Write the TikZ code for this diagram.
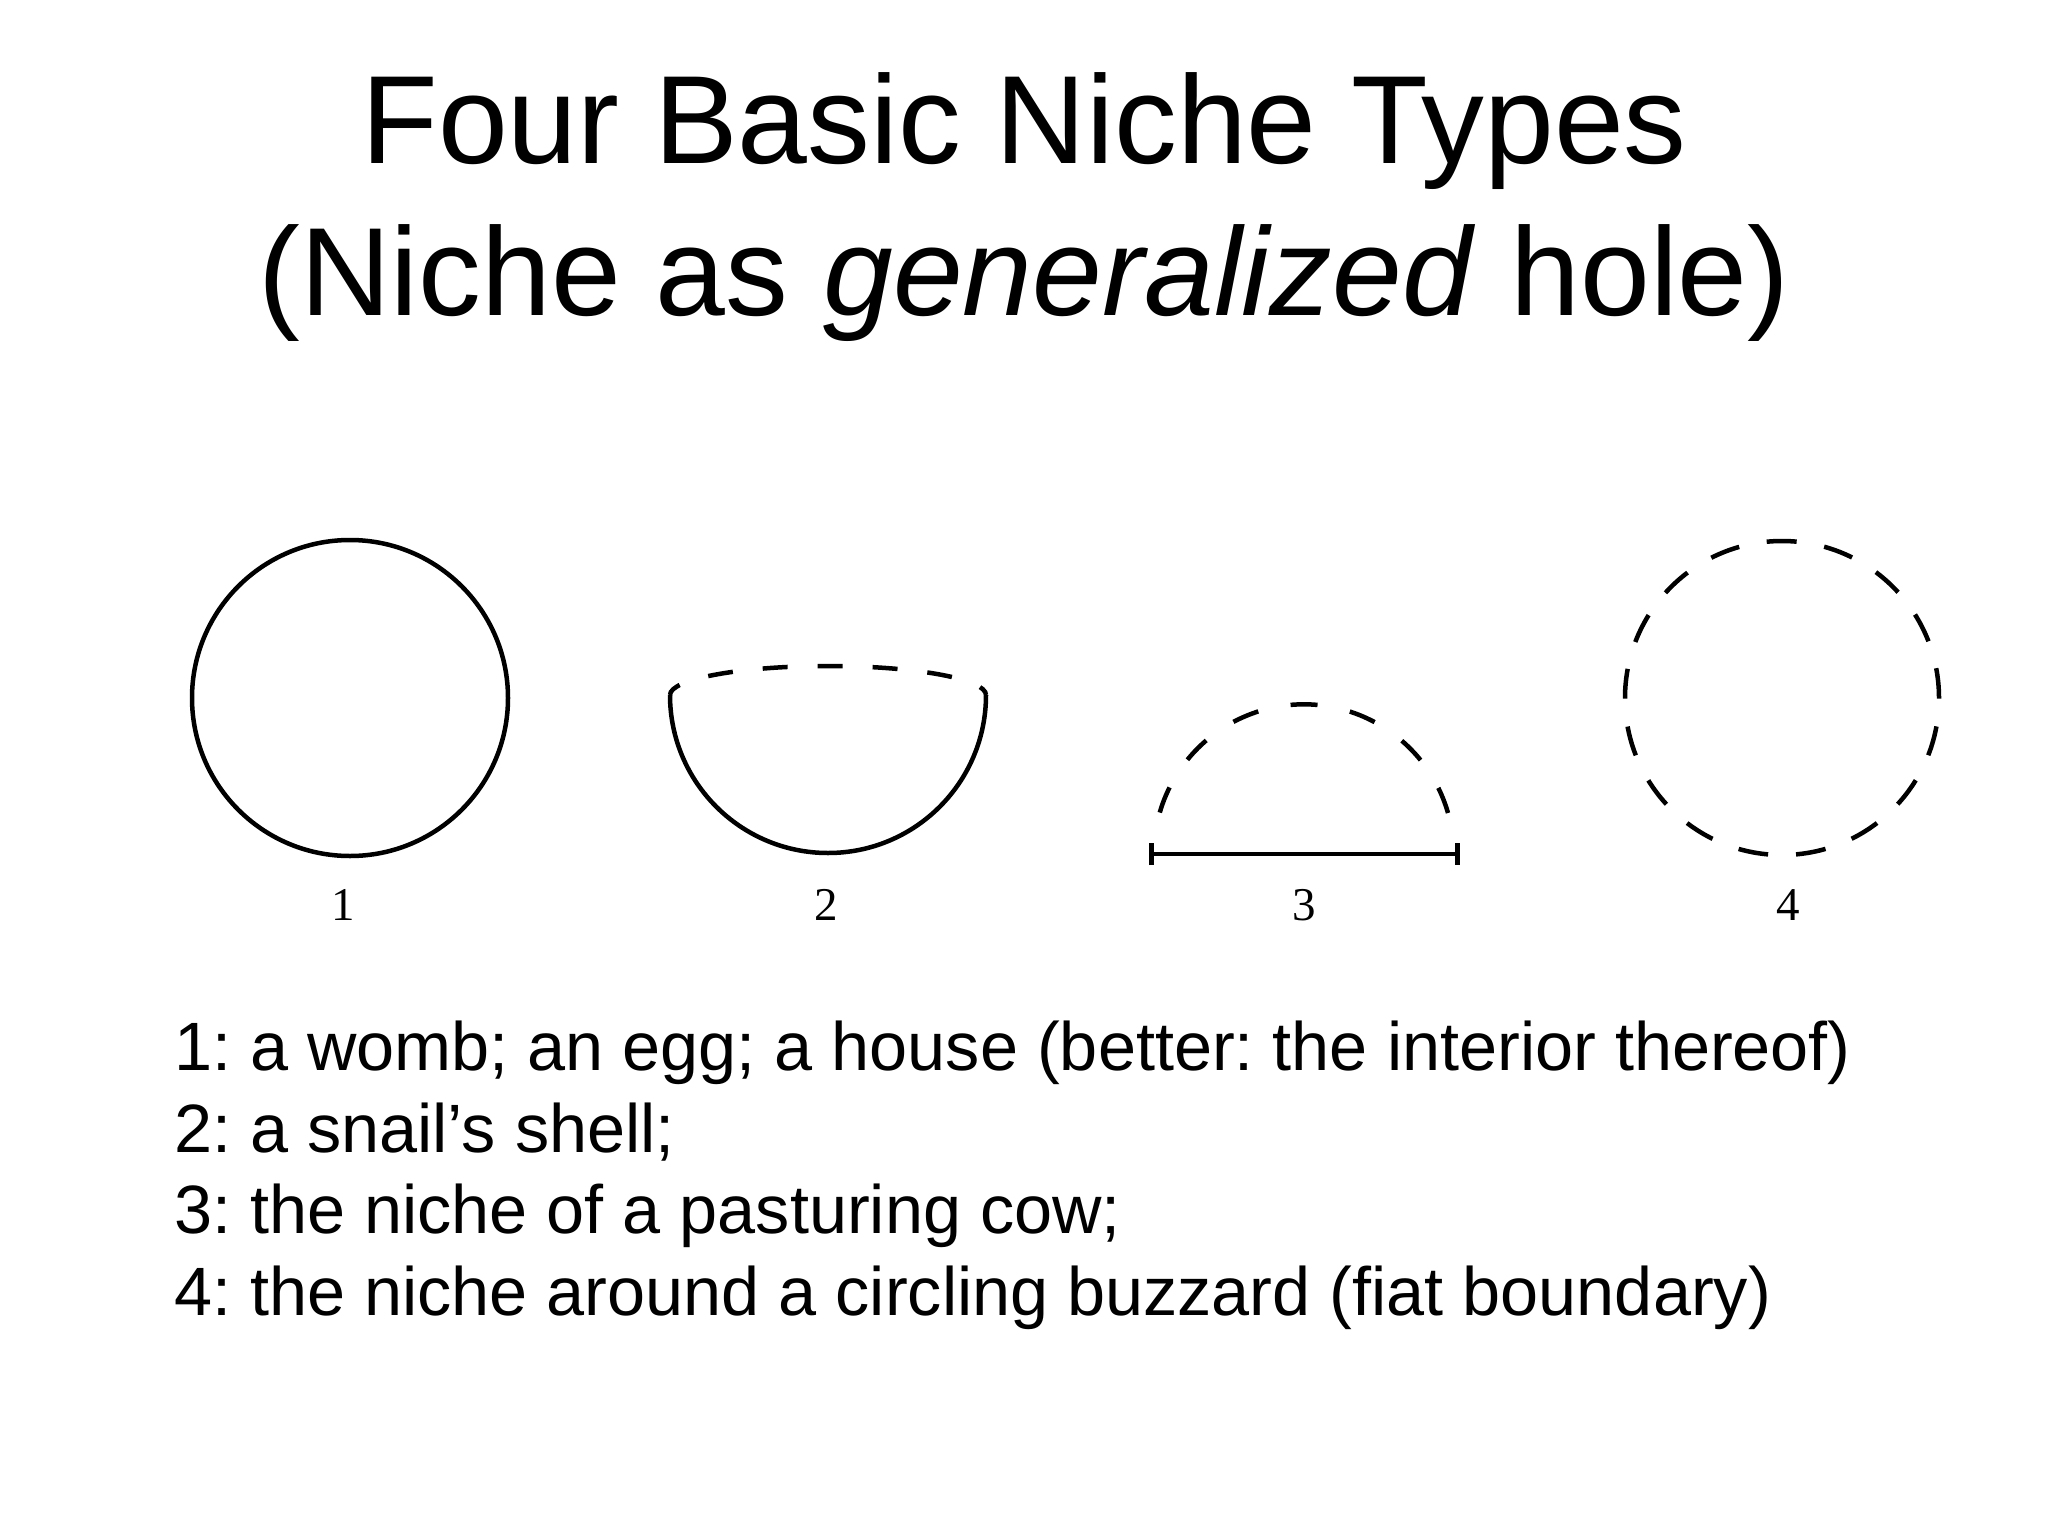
\documentclass[tikz,border=0pt]{standalone}
\usepackage{fontspec}
\setmainfont{Liberation Sans}
\newfontfamily\numfont{Liberation Serif}
\usepackage{tikz}
\usetikzlibrary{arrows.meta}
\tikzset{>=latex}
\frenchspacing
\tikzstyle{rim} = [-, line width = 4.5pt]
\tikzstyle{fiat} = [-, line width = 4.5pt, dash pattern = on 30pt off 28pt]
\tikzstyle{head} = [draw=none, inner sep = 0, anchor = base, font = \fontsize{125.5}{151}\selectfont]
\tikzstyle{num} = [draw=none, inner sep = 0, anchor = base, font = \numfont\fontsize{47}{47}\selectfont]
\tikzstyle{legend} = [draw=none, inner sep = 0, anchor = base west, font = \fontsize{68.4}{82}\selectfont]

\begin{document}
\begin{tikzpicture}[x = 1pt, y = -1pt]
\useasboundingbox (0, 0) rectangle (2048, 1536);
\node [head] (T1) at (1024, 164) {Four Basic Niche Types};
\node [head] (T2) at (1024, 315) {(Niche as \textit{generalized} hole)};
% womb
\draw [rim] (350, 698) circle [radius = 158pt];
% shell
\draw [rim] (670, 695) arc [start angle = 180, end angle = 360, radius = 158pt];
\draw [rim, dash pattern = on 25pt off 30pt, dash phase = 10.5pt] (670, 695) arc [start angle = 180, end angle = 0, x radius = 158pt, y radius = 29pt];
% pasture
\coordinate (gl) at (1149, 854);
\coordinate (gr) at (1460, 854);
\draw [rim, {Bar[width = 22pt, line width = 5pt]}-{Bar[width = 22pt, line width = 5pt]}] (gl) to (gr);
\draw [rim, dash pattern = on 27pt off 33pt] (1448, 813) arc [start angle = 16, end angle = 164, radius = 150pt];
% buzzard
\draw [fiat] (1782, 698) circle [radius = 157pt];
\node [num] (n1) at (343, 920) {1};
\node [num] (n2) at (826, 920) {2};
\node [num] (n3) at (1304, 920) {3};
\node [num] (n4) at (1788, 920) {4};
\node [legend] (L1) at (174, 1070) {1: a womb; an egg; a house (better: the interior thereof)};
\node [legend] (L2) at (174, 1152) {2: a snail’s shell;};
\node [legend] (L3) at (174, 1233) {3: the niche of a pasturing cow;};
\node [legend] (L4) at (174, 1315) {4: the niche around a circling buzzard (fiat boundary)};
\end{tikzpicture}
\end{document}
